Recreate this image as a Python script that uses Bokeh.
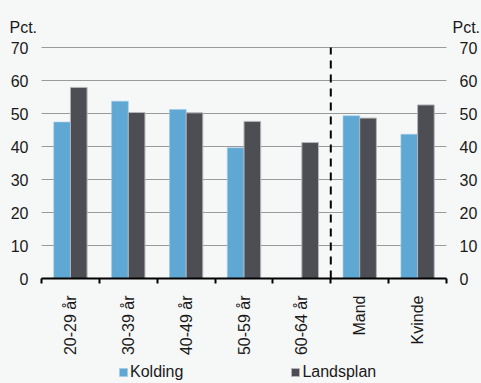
from bokeh.plotting import figure
from bokeh.models import (ColumnDataSource, LinearAxis, FixedTicker, Range1d, Legend,
                          LegendItem, Label)
from bokeh.transform import dodge
from bokeh.embed import file_html
from bokeh.resources import INLINE

categories = ["20-29 år", "30-39 år", "40-49 år", "50-59 år", "60-64 år", "Mand", "Kvinde"]
kolding = [47.4, 53.7, 51.2, 39.6, float("nan"), 49.3, 43.7]
landsplan = [57.9, 50.3, 50.2, 47.6, 41.2, 48.6, 52.6]
series_names = ["Kolding", "Landsplan"]
unit_label = "Pct."
y_ticks = [0, 10, 20, 30, 40, 50, 60, 70]
divider_after = 5  # dashed line between "60-64 år" and "Mand"

FONT = "Liberation Sans"
FS = "16px"
TXT = "#1a1a1a"
BG = "#f6f7f7"
C_K = "#5fa8d4"
C_L = "#4d4e53"

W, H = 481, 383
# pixel margins around the bar area (the frame spans the whole canvas so that
# texts outside the bar area are not clipped)
ML, MR, MT, MB = 41, 35, 47, 105

n = len(categories)
ymax = y_ticks[-1]
ppx = (W - ML - MR) / n          # pixels per category
ppy = (H - MT - MB) / ymax       # pixels per unit
x_range = Range1d(-ML / ppx, n + MR / ppx)
y_range = Range1d(-MB / ppy, ymax + MT / ppy)

centers = [i + 0.5 for i in range(n)]
src = ColumnDataSource(dict(x=centers, kolding=kolding, landsplan=landsplan))

p = figure(width=W, height=H, output_backend="svg", toolbar_location=None,
           x_range=x_range, y_range=y_range,
           x_axis_location=None, y_axis_location=None,
           min_border=0, background_fill_color=BG, border_fill_color=BG,
           outline_line_color=None)
p.xgrid.visible = False
p.ygrid.visible = False

# horizontal gridlines across the bar area
p.segment(x0=[0] * (len(y_ticks) - 1), x1=[n] * (len(y_ticks) - 1),
          y0=y_ticks[1:], y1=y_ticks[1:], line_color="#9a9a9a", line_width=1)

bw = 0.288
rk = p.vbar(x=dodge("x", -bw / 2, range=p.x_range), top="kolding", width=bw, source=src,
            fill_color=C_K, line_color="#9fc9e6", line_width=0.6)
rl = p.vbar(x=dodge("x", bw / 2, range=p.x_range), top="landsplan", width=bw, source=src,
            fill_color=C_L, line_color="#b5b5b8", line_width=1)

# dashed divider
p.segment(x0=[divider_after], y0=[0], x1=[divider_after], y1=[ymax],
          line_color="black", line_width=2, line_dash="8 6")

# x axis drawn at y = 0
xa = LinearAxis(ticker=FixedTicker(ticks=centers, minor_ticks=list(range(n + 1))),
                major_label_overrides={c: lab for c, lab in zip(centers, categories)},
                fixed_location=0, bounds=(0, n))
xa.major_label_orientation = 3.14159265 / 2
xa.major_tick_out = 0
xa.major_tick_in = 0
xa.minor_tick_out = 5
xa.minor_tick_in = 0
xa.minor_tick_line_color = "black"
xa.minor_tick_line_width = 2
xa.axis_line_color = "black"
xa.axis_line_width = 2
xa.major_label_standoff = 12
xa.major_label_text_font = FONT
xa.major_label_text_font_size = FS
xa.major_label_text_color = TXT
p.add_layout(xa, "below")

for side, loc in (("left", 0), ("right", n)):
    ya = LinearAxis(ticker=FixedTicker(ticks=y_ticks), fixed_location=loc,
                    bounds=(0, ymax))
    ya.axis_line_color = None
    ya.major_tick_line_color = None
    ya.minor_tick_line_color = None
    ya.major_tick_out = 0
    ya.major_tick_in = 0
    ya.major_label_standoff = 13
    ya.major_label_text_font = FONT
    ya.major_label_text_font_size = FS
    ya.major_label_text_color = TXT
    p.add_layout(ya, side)

# "Pct." unit labels above both value axes
for xs in (9, W - 29):
    p.add_layout(Label(x=xs, y=H - 26.5, x_units="screen", y_units="screen",
                       text=unit_label, text_font=FONT, text_font_size=FS,
                       text_color=TXT, text_baseline="alphabetic"))

legend = Legend(items=[LegendItem(label=series_names[0], renderers=[rk]),
                       LegendItem(label=series_names[1], renderers=[rl])],
                orientation="horizontal", location=(118, 2),
                glyph_width=10, glyph_height=10, label_standoff=2, spacing=107,
                label_height=16, padding=0, margin=0, border_line_color=None,
                background_fill_alpha=0, label_text_font=FONT,
                label_text_font_size=FS, label_text_color=TXT)
p.add_layout(legend)

html = file_html(p, INLINE)
html = html.replace("<head>", "<head><style>html,body{background:%s;}</style>" % BG, 1)
open("out.html", "w").write(html)
